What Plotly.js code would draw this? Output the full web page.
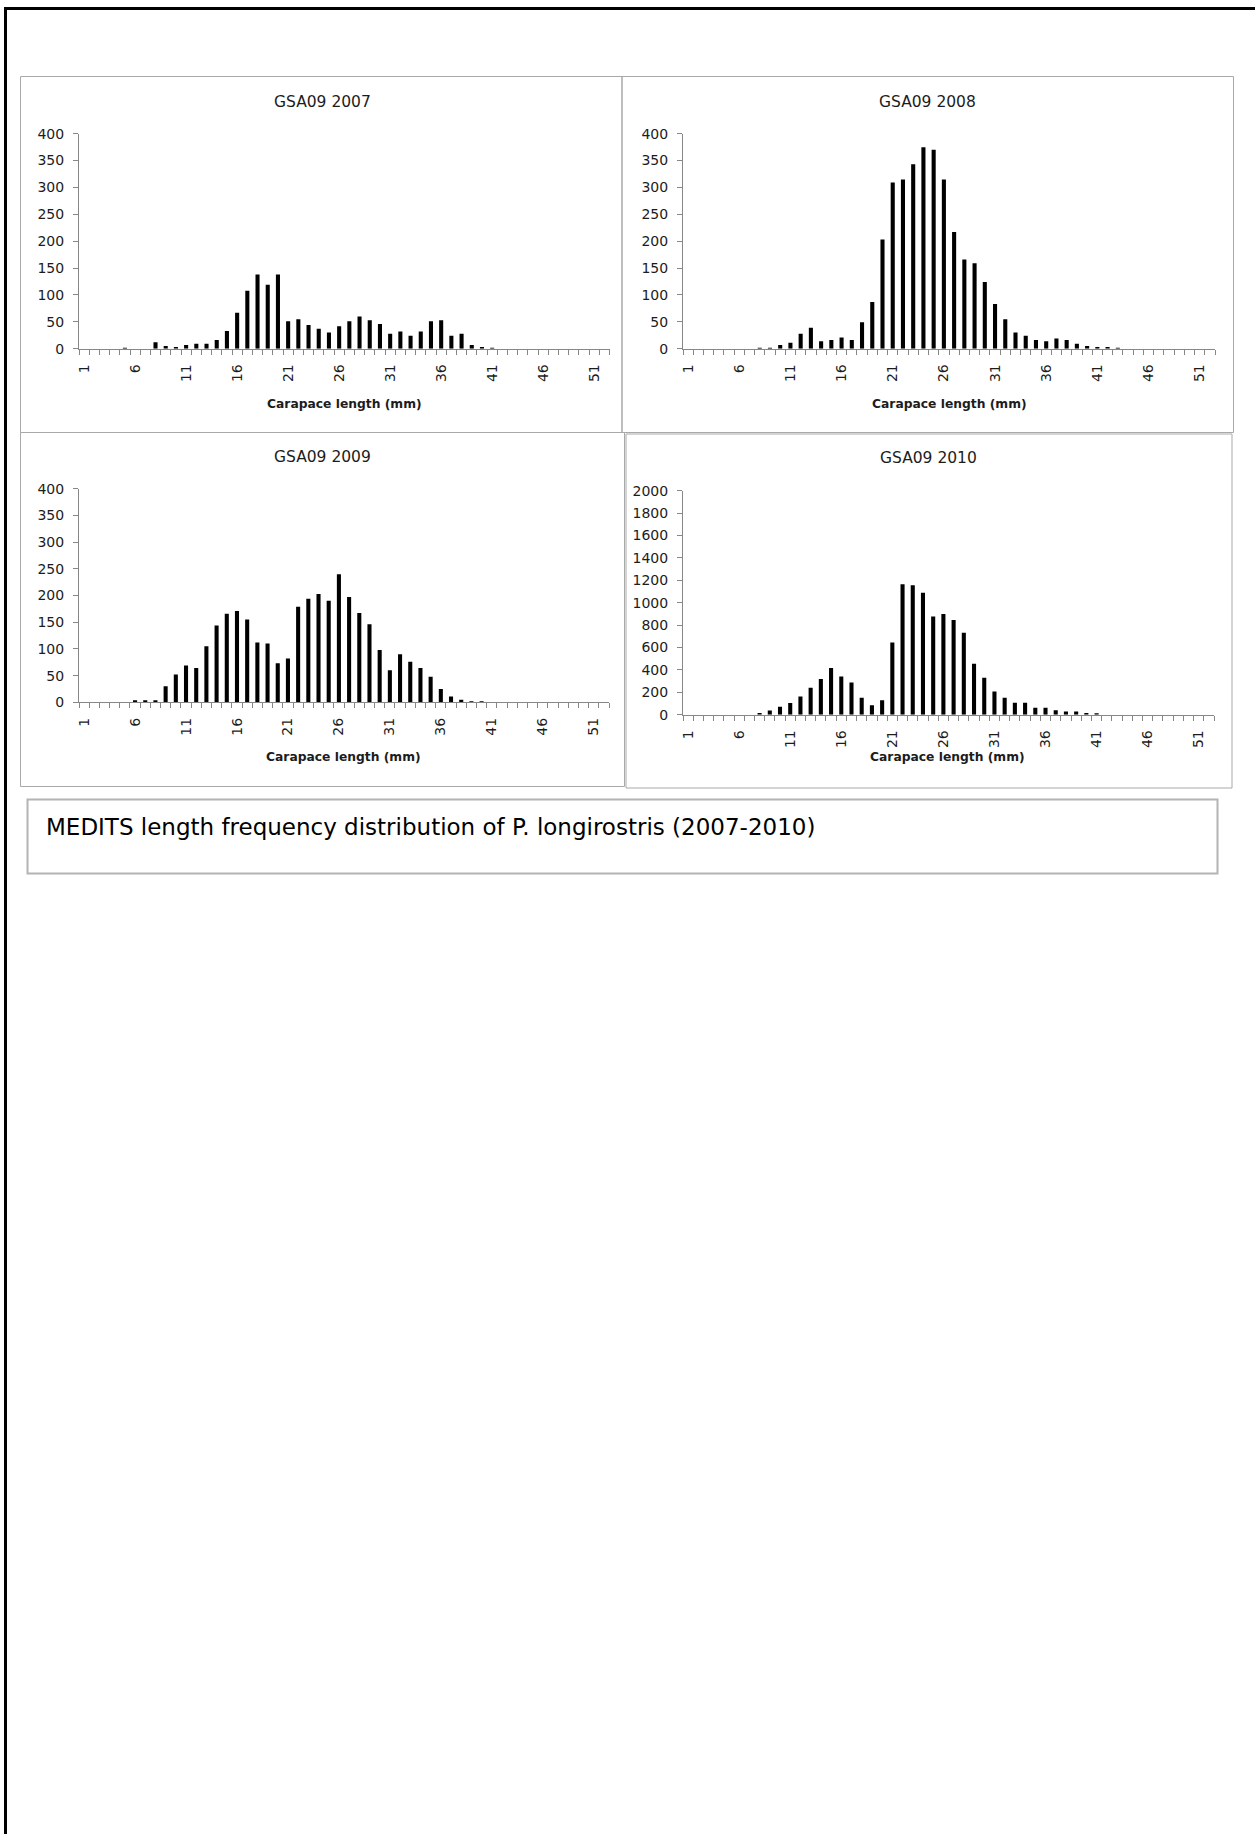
<!DOCTYPE html>
<html>
<head>
<meta charset="utf-8">
<script src="https://cdn.plot.ly/plotly-3.0.1.min.js"></script>
<style>
  html, body { margin: 0; padding: 0; background: #ffffff; }
  #chart { width: 1255px; height: 1834px; }
</style>
</head>
<body>
<div id="chart"></div>
<script>
// Carapace length classes (mm)
const lengthClasses = [1,2,3,4,5,6,7,8,9,10,11,12,13,14,15,16,17,18,19,20,21,22,23,24,25,26,27,28,29,30,31,32,33,34,35,36,37,38,39,40,41,42,43,44,45,46,47,48,49,50,51,52];

// MEDITS length frequencies, GSA09
const counts2007 = [0,0,0,0,2,0,0,12,5,3, 7,9,9,16,33,67,108,138,119,138, 51,55,44,37,30,42,51,60,53,46, 28,32,24,32,51,53,24,28,7,3, 2,0,0,0,0,0,0,0,0,0, 0,0];
const counts2008 = [0,0,0,0,0,0,0,2,2,7, 11,28,39,14,16,21,16,49,87,203, 309,315,343,375,370,315,217,166,159,124, 83,55,30,24,16,14,19,16,9,5, 3,3,2,0,0,0,0,0,0,0, 0,0];
const counts2009 = [0,0,0,0,0,4,4,4,30,52, 69,64,105,144,166,171,155,112,110,73, 82,179,194,203,190,240,197,167,146,98, 60,90,76,64,48,25,11,5,2,2, 0,0,0,0,0,0,0,0,0,0, 0,0];
const counts2010 = [0,0,0,0,0,0,0,15,38,72, 105,162,240,318,418,342,288,152,85,130, 645,1165,1155,1088,877,898,845,732,455,330, 208,152,107,107,62,62,40,28,28,16, 14,0,0,0,0,0,0,0,0,0, 0,0];

// Axis labels
const xTickVals = [1,6,11,16,21,26,31,36,41,46,51];
const xTickText = ['1','6','11','16','21','26','31','36','41','46','51'];
const yTicks400 = [0,50,100,150,200,250,300,350,400];
const yTicks2000 = [0,200,400,600,800,1000,1200,1400,1600,1800,2000];

const panelTitles = ['GSA09 2007','GSA09 2008','GSA09 2009','GSA09 2010'];
const xAxisTitle = 'Carapace length (mm)';
const captionText = 'MEDITS length frequency distribution of P. longirostris (2007-2010)';

// ---- page geometry (pixels) ----
const W = 1255, H = 1834;
const px = v => v / W;          // horizontal pixel -> paper
const py = v => 1 - v / H;      // vertical pixel -> paper

const FONT = 'DejaVu Sans, sans-serif';
const AXIS_GREY = '#878787';
const TEXT = '#1c1c1c';

// plot areas: [left, right, top, bottom] in px
const panels = [
  { area: [79, 609.5, 133.7, 348.7], yMax: 400,  yTicks: yTicks400,  data: counts2007,
    box: [20.5, 622, 76.5, 432.5], title: [322.5, 102], axisTitle: [344, 403.7] },
  { area: [683, 1215, 133.7, 348.7], yMax: 400,  yTicks: yTicks400,  data: counts2008,
    box: [622, 1233.5, 76.5, 432.5], title: [927, 102], axisTitle: [949, 403.7] },
  { area: [79, 609, 488.7, 702.3], yMax: 400,  yTicks: yTicks400,  data: counts2009,
    box: [20.5, 624.5, 432.5, 786.5], title: [322, 457], axisTitle: [343, 756.5] },
  { area: [683, 1214, 490.7, 714.7], yMax: 2000, yTicks: yTicks2000, data: counts2010,
    box: [626, 1232, 434, 788], title: [928, 458], axisTitle: [948, 757] }
];

const traces = [];
const layout = {
  width: W, height: H,
  margin: { l: 0, r: 0, t: 0, b: 0 },
  paper_bgcolor: '#ffffff',
  plot_bgcolor: 'rgba(0,0,0,0)',
  showlegend: false,
  bargap: 0.6,
  font: { family: FONT, color: TEXT, size: 14 },
  shapes: [],
  annotations: []
};

panels.forEach((p, i) => {
  const n = i === 0 ? '' : String(i + 1);
  traces.push({
    type: 'bar',
    x: lengthClasses,
    y: p.data,
    xaxis: 'x' + n,
    yaxis: 'y' + n,
    marker: { color: '#000000', line: { width: 0 } },
    hoverinfo: 'x+y'
  });

  const [l, r, t, b] = p.area;
  layout['xaxis' + n] = {
    domain: [px(l), px(r)],
    anchor: 'y' + n,
    range: [0.5, 52.5],
    tickmode: 'array',
    tickvals: xTickVals,
    ticktext: xTickText,
    tickangle: -90,
    ticks: '',
    ticklabelstandoff: 9,
    tickfont: { family: FONT, size: 14, color: TEXT },
    showline: true, linecolor: AXIS_GREY, linewidth: 1,
    showgrid: false, zeroline: false,
    minor: { tickmode: 'linear', tick0: 0.5, dtick: 1, ticks: 'outside', ticklen: 5,
             tickcolor: AXIS_GREY, tickwidth: 1, showgrid: false },
    fixedrange: true
  };
  layout['yaxis' + n] = {
    domain: [py(b), py(t)],
    anchor: 'x' + n,
    range: [0, p.yMax],
    tickmode: 'array',
    tickvals: p.yTicks,
    ticks: 'outside', ticklen: 5, tickcolor: AXIS_GREY, tickwidth: 1,
    ticklabelstandoff: 6,
    tickfont: { family: FONT, size: 14, color: TEXT },
    showline: true, linecolor: AXIS_GREY, linewidth: 1,
    showgrid: false, zeroline: false,
    fixedrange: true
  };

  // chart frame
  layout.shapes.push({
    type: 'rect', xref: 'paper', yref: 'paper', layer: 'below',
    x0: px(p.box[0]), x1: px(p.box[1]), y0: py(p.box[3]), y1: py(p.box[2]),
    line: { color: '#a9a9a9', width: 1 }, fillcolor: 'rgba(0,0,0,0)'
  });

  layout.annotations.push({
    text: panelTitles[i], xref: 'paper', yref: 'paper',
    x: px(p.title[0]), y: py(p.title[1]), xanchor: 'center', yanchor: 'middle',
    showarrow: false, font: { family: FONT, size: 15.5, color: TEXT }
  });
  layout.annotations.push({
    text: '<b>' + xAxisTitle + '</b>', xref: 'paper', yref: 'paper',
    x: px(p.axisTitle[0]), y: py(p.axisTitle[1]), xanchor: 'center', yanchor: 'middle',
    showarrow: false, font: { family: FONT, size: 12.3, color: TEXT }
  });
});

// caption box and text
layout.shapes.push({
  type: 'rect', xref: 'paper', yref: 'paper', layer: 'below',
  x0: px(27.5), x1: px(1217.5), y0: py(873.5), y1: py(799.5),
  line: { color: '#b4b4b4', width: 2 }, fillcolor: 'rgba(0,0,0,0)'
});
layout.annotations.push({
  text: captionText, xref: 'paper', yref: 'paper',
  x: px(44), y: py(827), xanchor: 'left', yanchor: 'middle',
  showarrow: false, font: { family: FONT, size: 23, color: '#000000' }
});

// page frame: top and left edges
layout.shapes.push({
  type: 'line', xref: 'paper', yref: 'paper',
  x0: px(4), x1: 1, y0: py(8.5), y1: py(8.5),
  line: { color: '#000000', width: 3 }
});
layout.shapes.push({
  type: 'line', xref: 'paper', yref: 'paper',
  x0: px(5.5), x1: px(5.5), y0: py(7), y1: 0,
  line: { color: '#000000', width: 3 }
});

Plotly.newPlot('chart', traces, layout, { staticPlot: true, displayModeBar: false });
</script>
</body>
</html>
